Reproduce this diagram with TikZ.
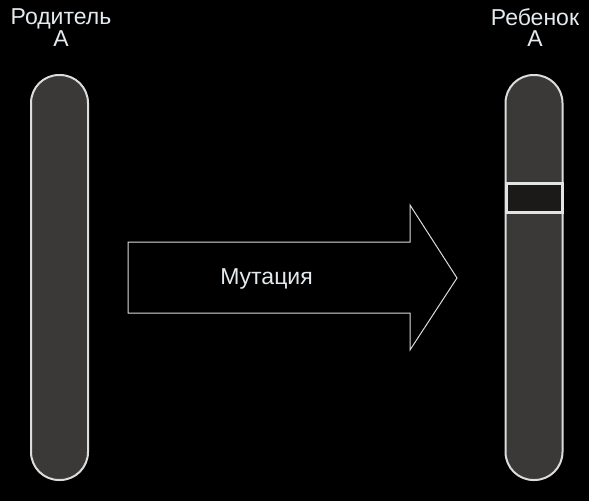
\documentclass[tikz,border=0pt]{standalone}
\usepackage{fontspec}
\setmainfont{Liberation Sans}
\definecolor{chromfill}{HTML}{3A3937}
\definecolor{chromline}{HTML}{DCDCDC}
\definecolor{bandfill}{HTML}{1C1A18}
\definecolor{bandline}{HTML}{E0E4E2}
\definecolor{txt}{HTML}{E4EAEE}
\begin{document}
\begin{tikzpicture}[x=1pt,y=-1pt,
  chrom/.style={draw=chromline, fill=chromfill, line width=2pt, rounded corners=28pt,
    rectangle, inner sep=0pt, minimum width=57pt, minimum height=405pt},
  bandbox/.style={draw=bandline, fill=bandfill, line width=3pt, rectangle, inner sep=0pt,
    minimum width=56pt, minimum height=29pt},
  lbl/.style={text=txt, align=center, inner sep=0pt, font=\fontsize{23}{21.5}\selectfont},
  arrowshape/.style={draw=chromline, fill=black, line width=1pt}]
\useasboundingbox[fill=black] (0,0) rectangle (589,501);
\node[chrom] (parent) at (59.5,277.5) {};
\node[chrom] (child) at (534,277.5) {};
\node[bandbox] (band) at (534,197.5) {};
\draw[arrowshape] (128,242) -- (410,242) -- (410,205) -- (457,278) -- (410,350) -- (410,313) -- (128,313) -- cycle;
\node[lbl] (mut) at (266.5,278.5) {Мутация};
\node[lbl] (lparent) at (61,27.5) {Родитель\\A};
\node[lbl] (lchild) at (535,27.5) {Ребенок\\A};
\end{tikzpicture}
\end{document}
